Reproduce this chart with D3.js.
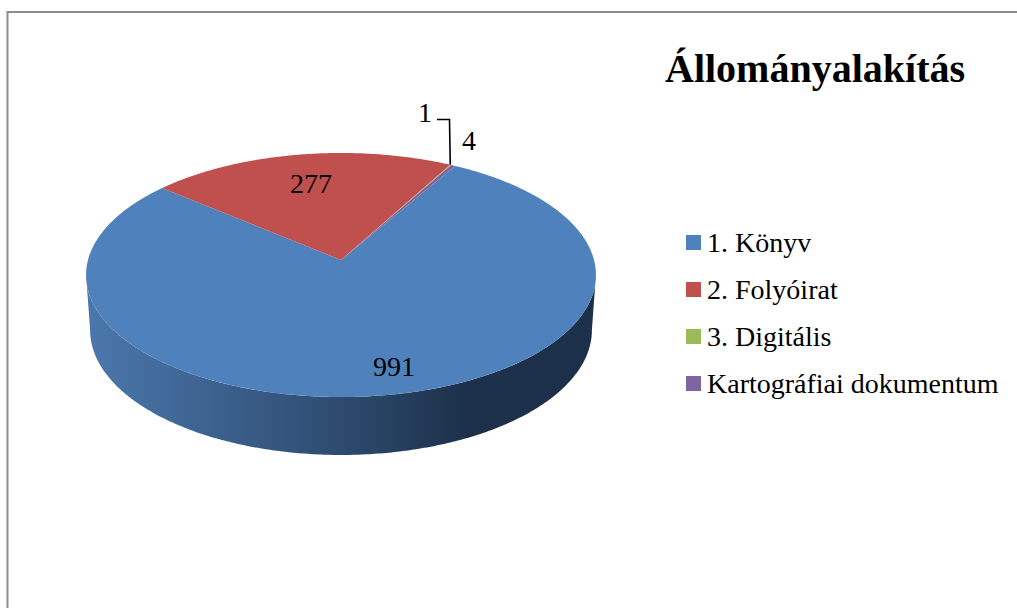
<!DOCTYPE html>
<html>
<head>
<meta charset="utf-8">
<script src="https://cdn.jsdelivr.net/npm/d3@7/dist/d3.min.js"></script>
<style>
html,body{margin:0;padding:0;background:#fff}
svg{display:block}
text{font-family:"Liberation Serif",serif;fill:#000}
</style>
</head>
<body>
<svg id="chart" width="1017" height="608"></svg>
<script>
const categories = ["1. Könyv", "2. Folyóirat", "3. Digitális", "Kartográfiai dokumentum"];
const values = [991, 277, 1, 4];
const colors = ["#4f81bd", "#c0504d", "#9bbb59", "#8064a2"];
const titleText = "Állományalakítás";

const svg = d3.select("#chart");
const FONT = 28;

// frame (top and left only)
svg.append("path").attr("d", "M7.5,608V12H1017").attr("fill", "none")
  .attr("stroke", "#8c8c8c").attr("stroke-width", 2);

// perspective projection of a unit disc onto the screen
const persp = 0.123;
const topFace = {cx: 341, k: 253, b: 260, a: -88.2};
const bottomFace = {cx: 341, k: 249, b: 314.6, a: -84.4};
function project(face, angle, rho = 1) {
  const u = rho * Math.sin(angle), v = rho * Math.cos(angle), w = 1 + persp * v;
  return [face.cx + face.k * u / w, (face.b + face.a * v) / w];
}
function arcPoints(face, a0, a1) {
  const n = Math.max(2, Math.ceil(Math.abs(a1 - a0) / 0.01));
  return d3.range(n + 1).map(i => project(face, a0 + (a1 - a0) * i / n));
}
const line = d3.line();
const rad = d => d * Math.PI / 180;

const start = rad(30.0);
const pie = d3.pie().sort(null).value(d => d).startAngle(start).endAngle(start + 2 * Math.PI);
const arcs = pie(values);

// side wall
const defs = svg.append("defs");
const grad = defs.append("linearGradient").attr("id", "side")
  .attr("gradientUnits", "userSpaceOnUse").attr("x1", 86).attr("x2", 596).attr("y1", 0).attr("y2", 0);
[[0, "#4b78ad"], [0.49, "#2e4c70"], [0.75, "#1c3049"], [1, "#1c3049"]]
  .forEach(([o, c]) => grad.append("stop").attr("offset", o).attr("stop-color", c));

const sideA = rad(97), sideB = rad(263);
const sidePts = arcPoints(topFace, sideA, sideB).concat(arcPoints(bottomFace, sideB, sideA));
svg.append("path").attr("d", line(sidePts) + "Z").attr("fill", "url(#side)");

// top face
svg.append("g").selectAll("path").data(arcs).join("path")
  .attr("d", d => {
    const pts = [project(topFace, 0, 0)].concat(arcPoints(topFace, d.startAngle, d.endAngle));
    return line(pts) + "Z";
  })
  .attr("fill", (d, i) => colors[i]);

// data labels
const labelPos = [[394, 376], [311, 193], [425, 122], [469, 150]];
svg.append("g").selectAll("text").data(values).join("text")
  .attr("x", (d, i) => labelPos[i][0]).attr("y", (d, i) => labelPos[i][1])
  .attr("text-anchor", "middle").attr("font-size", FONT).text(d => d);

// leader line
const tip = project(topFace, arcs[2].startAngle);
svg.append("path").attr("d", `M437,119.5H449.5L${tip[0]},${tip[1]}`)
  .attr("fill", "none").attr("stroke", "#000").attr("stroke-width", 1.6);

// title
svg.append("text").attr("x", 665).attr("y", 82)
  .attr("font-size", 40).attr("font-weight", "bold").text(titleText);

// legend
const legendY = d3.scalePoint().domain(categories).range([235, 376]);
const legend = svg.append("g").selectAll("g").data(categories).join("g")
  .attr("transform", d => `translate(686,${legendY(d)})`);
legend.append("rect").attr("width", 15).attr("height", 15).attr("fill", (d, i) => colors[i]);
legend.append("text").attr("x", 21).attr("y", 17).attr("font-size", FONT).text(d => d);
</script>
</body>
</html>
